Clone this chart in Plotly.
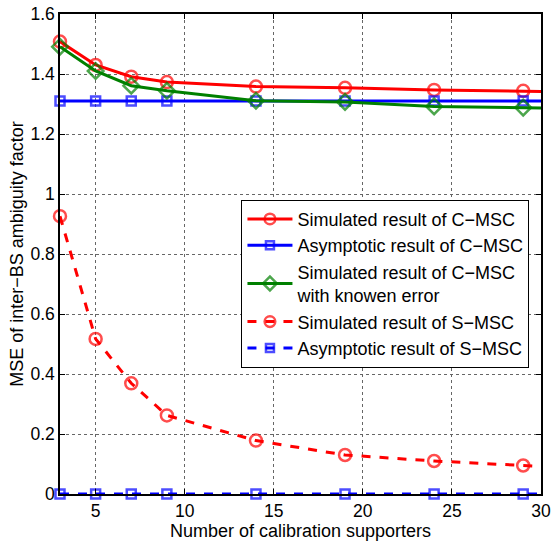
import plotly.graph_objects as go

x = [3, 5, 7, 9, 14, 19, 24, 29, 30]
sim_cmsc = [1.508, 1.430, 1.391, 1.373, 1.358, 1.354, 1.347, 1.344, 1.342]
asy_cmsc = [1.31, 1.31, 1.31, 1.31, 1.31, 1.31, 1.31, 1.31, 1.31]
sim_cmsc_known = [1.491, 1.410, 1.361, 1.344, 1.311, 1.307, 1.292, 1.288, 1.287]
sim_smsc = [0.926, 0.517, 0.369, 0.262, 0.178, 0.130, 0.110, 0.095, 0.092]
asy_smsc = [0, 0, 0, 0, 0, 0, 0, 0, 0]

x_ticks = [5, 10, 15, 20, 25, 30]
y_ticks = [0, 0.2, 0.4, 0.6, 0.8, 1, 1.2, 1.4, 1.6]
y_ticktext = ["0", "0.2", "0.4", "0.6", "0.8", "1", "1.2", "1.4", "1.6"]

names = ["Simulated result of C\u2212MSC",
         "Asymptotic result of C\u2212MSC",
         "Simulated result of C\u2212MSC<br>with knowen error",
         "Simulated result of S\u2212MSC",
         "Asymptotic result of S\u2212MSC"]

def msize(s):
    return [s] * (len(x) - 1) + [0]

fig = go.Figure()
specs = [
    (sim_cmsc, "red", "solid", "circle-open", 12),
    (asy_cmsc, "blue", "solid", "square-open", 9),
    (sim_cmsc_known, "green", "solid", "diamond-open", 12),
    (sim_smsc, "red", "dash", "circle-open", 12),
    (asy_smsc, "blue", "dash", "square-open", 9),
]
for (y, c, d, sym, s), n in zip(specs, names):
    fig.add_trace(go.Scatter(
        x=x, y=y, name=n, mode="lines+markers",
        line=dict(color=c, width=3, dash=d),
        marker=dict(symbol=sym, size=msize(s), color=c, line=dict(width=2.5, color=c)),
        cliponaxis=False,
    ))

axis_common = dict(
    showline=True, linecolor="black", linewidth=1.5, mirror="ticks",
    ticks="inside", ticklen=5, tickcolor="black",
    showgrid=True, gridcolor="#666", griddash="dot", gridwidth=1,
    zeroline=False, tickfont=dict(size=17.5, color="black"), automargin=False,
)
fig.update_xaxes(range=[3, 30], tickvals=x_ticks,
                 title=dict(text="Number of calibration supporters", font=dict(size=18, color="black"), standoff=2),
                 **axis_common)
fig.update_yaxes(range=[0, 1.6], tickvals=y_ticks, ticktext=y_ticktext,
                 title=dict(text="MSE of inter\u2212BS ambiguity factor", font=dict(size=18, color="black"), standoff=2),
                 **axis_common)

fig.update_layout(
    width=554, height=542,
    margin=dict(l=60, r=13, t=14, b=48, autoexpand=False),
    paper_bgcolor="white", plot_bgcolor="white",
    font=dict(family="Liberation Sans, Arial, sans-serif", size=18, color="black"),
    legend=dict(x=0.976, y=0.613, xanchor="right", yanchor="top",
                bgcolor="white", bordercolor="black", borderwidth=1,
                font=dict(size=18), tracegroupgap=0, itemwidth=45),
    showlegend=True,
)
# remove the default 8px page margin so the figure fills the window exactly
fig.write_html("out.html", config={"displayModeBar": False},
               post_script="document.body.style.margin='0px';")
